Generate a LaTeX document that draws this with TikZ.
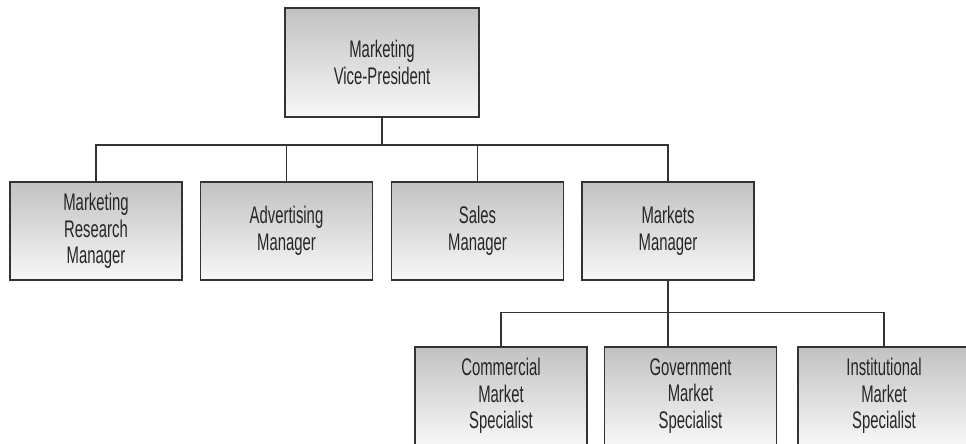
\documentclass[tikz,border=0pt]{standalone}
\usepackage{fontspec}
\setmainfont{Liberation Sans}[FakeStretch=0.62]

\begin{document}
\begin{tikzpicture}[x=1pt,y=-1pt,
  post/.style={draw=black!80,line width=1.3pt,top color=black!24,bottom color=black!3,
    minimum width=172pt,minimum height=98pt,inner sep=0pt,align=center,
    font=\fontsize{24}{26.5}\selectfont,text=black!85},
  link/.style={draw=black!80,line width=1.3pt}]
  \useasboundingbox (0,0) rectangle (966,444);
  \clip (0,0) rectangle (966,444);
  \node[post,minimum width=194pt,minimum height=109pt] (vp) at (382,62.5) {Marketing\\Vice-President};
  \node[post] (mrm) at (96,231) {Marketing\\Research\\Manager};
  \node[post] (adv) at (286.5,231) {Advertising\\Manager};
  \node[post] (sales) at (477.5,231) {Sales\\Manager};
  \node[post] (mkts) at (668,231) {Markets\\Manager};
  \node[post] (com) at (501,396) {Commercial\\Market\\Specialist};
  \node[post] (gov) at (690.5,396) {Government\\Market\\Specialist};
  \node[post] (inst) at (884,396) {Institutional\\Market\\Specialist};
  % first level
  \coordinate (bus1) at (382,145);
  \draw[link] (vp.south) -- (bus1);
  \draw[link] (mrm.north) |- (mkts.north |- bus1) -- (mkts.north);
  \foreach \n in {adv,sales}
    \draw[link] (\n.north) -- (\n.north |- bus1);
  % second level
  \coordinate (bus2) at (668,312.7);
  \draw[link] (mkts.south) -- (bus2);
  \draw[link] (com.north) |- (bus2) -| (inst.north);
  \draw[link] (bus2) -- (gov.north -| bus2);
\end{tikzpicture}
\end{document}
